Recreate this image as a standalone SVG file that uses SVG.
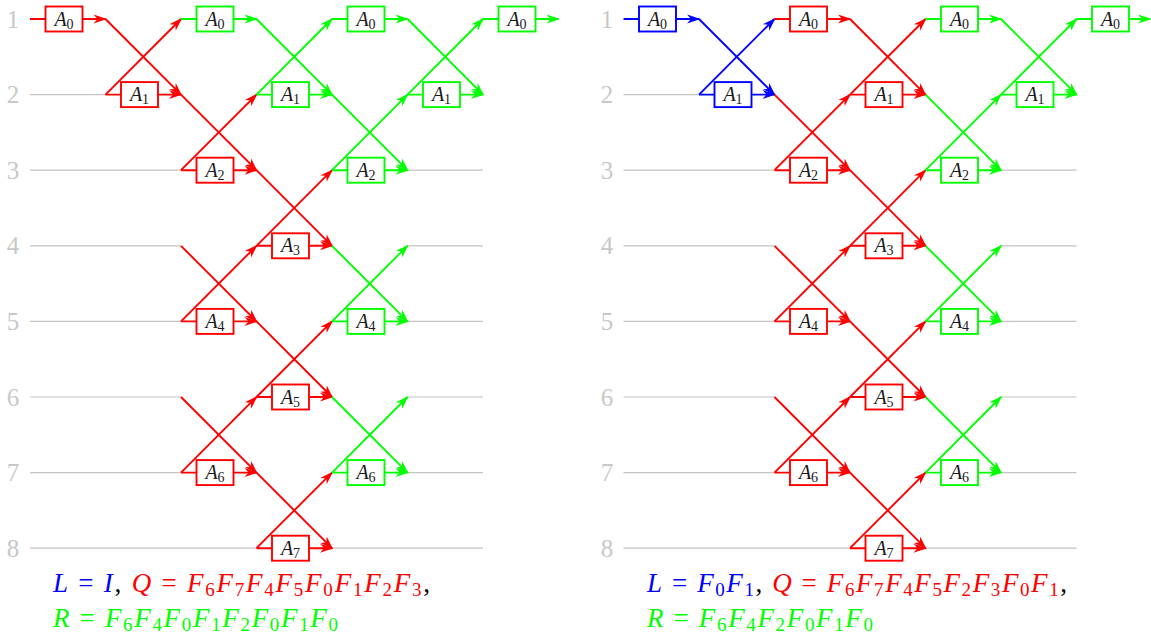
<svg xmlns="http://www.w3.org/2000/svg" width="1151" height="633" viewBox="0 0 1151 633">
<style>
.c{fill:none;stroke-width:1.9}
.cr{stroke:#ff0000;marker-end:url(#mr)}
.cg{stroke:#00ff00;marker-end:url(#mg)}
.cb{stroke:#0000ff;marker-end:url(#mb)}
.gl{stroke:#c4c4c4;stroke-width:1.2;fill:none}
.bx{fill:#fff;stroke-width:1.9}
.br{stroke:#ff0000}.bg{stroke:#00ff00}.bb{stroke:#0000ff}
.lb{font-size:20px;text-anchor:middle;fill:#1a1a1a}
.it{font-style:italic}
.sb{font-size:14px}
.num{font-size:25px;fill:#c8c8c8;text-anchor:middle}
.fm{font-size:27px}
.i{font-style:italic}
.s{font-size:19px}
</style>
<defs>
<marker id="mr" viewBox="-14 -6 16 12" refX="0" refY="0" markerWidth="16" markerHeight="12" markerUnits="userSpaceOnUse" orient="auto" overflow="visible"><path d="M1.5,0 L-12,-4.5 L-8,0 L-12,4.5 Z" fill="#ff0000"/></marker>
<marker id="mg" viewBox="-14 -6 16 12" refX="0" refY="0" markerWidth="16" markerHeight="12" markerUnits="userSpaceOnUse" orient="auto" overflow="visible"><path d="M1.5,0 L-12,-4.5 L-8,0 L-12,4.5 Z" fill="#00ff00"/></marker>
<marker id="mb" viewBox="-14 -6 16 12" refX="0" refY="0" markerWidth="16" markerHeight="12" markerUnits="userSpaceOnUse" orient="auto" overflow="visible"><path d="M1.5,0 L-12,-4.5 L-8,0 L-12,4.5 Z" fill="#0000ff"/></marker>
</defs>
<rect width="1151" height="633" fill="#fff"/>
<g id="row-labels" font-family="Liberation Serif, DejaVu Serif, serif">
<text class="num" x="13" y="27.5">1</text><text class="num" x="13" y="103.1">2</text><text class="num" x="13" y="178.7">3</text><text class="num" x="13" y="254.3">4</text><text class="num" x="13" y="329.9">5</text><text class="num" x="13" y="405.5">6</text><text class="num" x="13" y="481.1">7</text><text class="num" x="13" y="556.7">8</text>
<text class="num" x="607" y="27.5">1</text><text class="num" x="607" y="103.1">2</text><text class="num" x="607" y="178.7">3</text><text class="num" x="607" y="254.3">4</text><text class="num" x="607" y="329.9">5</text><text class="num" x="607" y="405.5">6</text><text class="num" x="607" y="481.1">7</text><text class="num" x="607" y="556.7">8</text>
</g>
<g id="gray-lines" class="gl">
<path d="M30,94.6H105.5M30,170.2H181M407.5,170.2H483M30,245.8H181M407.5,245.8H483M30,321.4H181M407.5,321.4H483M30,397H181M407.5,397H483M30,472.6H181M407.5,472.6H483M30,548.2H256.5M332,548.2H483"/>
<path d="M623.5,94.6H699M623.5,170.2H774.5M1001,170.2H1076.5M623.5,245.8H774.5M1001,245.8H1076.5M623.5,321.4H774.5M1001,321.4H1076.5M623.5,397H774.5M1001,397H1076.5M623.5,472.6H774.5M1001,472.6H1076.5M623.5,548.2H850M925.5,548.2H1076.5"/>
</g>
<g id="connectors">
<path class="c cr" d="M30,19H105.5"/>
<path class="c cr" d="M105.5,94.6H181"/>
<path class="c cr" d="M181,170.2H256.5"/>
<path class="c cr" d="M256.5,245.8H332"/>
<path class="c cr" d="M181,321.4H256.5"/>
<path class="c cr" d="M256.5,397H332"/>
<path class="c cr" d="M181,472.6H256.5"/>
<path class="c cr" d="M256.5,548.2H332"/>
<path class="c cr" d="M105.5,19L181,94.6"/><path class="c cr" d="M105.5,94.6L181,19"/>
<path class="c cr" d="M181,94.6L256.5,170.2"/><path class="c cr" d="M181,170.2L256.5,94.6"/>
<path class="c cr" d="M256.5,170.2L332,245.8"/><path class="c cr" d="M256.5,245.8L332,170.2"/>
<path class="c cr" d="M181,245.8L256.5,321.4"/><path class="c cr" d="M181,321.4L256.5,245.8"/>
<path class="c cr" d="M256.5,321.4L332,397"/><path class="c cr" d="M256.5,397L332,321.4"/>
<path class="c cr" d="M181,397L256.5,472.6"/><path class="c cr" d="M181,472.6L256.5,397"/>
<path class="c cr" d="M256.5,472.6L332,548.2"/><path class="c cr" d="M256.5,548.2L332,472.6"/>
<path class="c cg" d="M181,19H256.5"/>
<path class="c cg" d="M256.5,94.6H332"/>
<path class="c cg" d="M332,19H407.5"/>
<path class="c cg" d="M332,170.2H407.5"/>
<path class="c cg" d="M407.5,94.6H483"/>
<path class="c cg" d="M483,19H558.5"/>
<path class="c cg" d="M332,321.4H407.5"/>
<path class="c cg" d="M332,472.6H407.5"/>
<path class="c cg" d="M256.5,19L332,94.6"/><path class="c cg" d="M256.5,94.6L332,19"/>
<path class="c cg" d="M332,94.6L407.5,170.2"/><path class="c cg" d="M332,170.2L407.5,94.6"/>
<path class="c cg" d="M407.5,19L483,94.6"/><path class="c cg" d="M407.5,94.6L483,19"/>
<path class="c cg" d="M332,245.8L407.5,321.4"/><path class="c cg" d="M332,321.4L407.5,245.8"/>
<path class="c cg" d="M332,397L407.5,472.6"/><path class="c cg" d="M332,472.6L407.5,397"/>
<path class="c cb" d="M623.5,19H699"/>
<path class="c cb" d="M699,94.6H774.5"/>
<path class="c cb" d="M699,19L774.5,94.6"/><path class="c cb" d="M699,94.6L774.5,19"/>
<path class="c cr" d="M774.5,19H850"/>
<path class="c cr" d="M774.5,170.2H850"/>
<path class="c cr" d="M850,94.6H925.5"/>
<path class="c cr" d="M850,245.8H925.5"/>
<path class="c cr" d="M774.5,321.4H850"/>
<path class="c cr" d="M850,397H925.5"/>
<path class="c cr" d="M774.5,472.6H850"/>
<path class="c cr" d="M850,548.2H925.5"/>
<path class="c cr" d="M774.5,94.6L850,170.2"/><path class="c cr" d="M774.5,170.2L850,94.6"/>
<path class="c cr" d="M850,19L925.5,94.6"/><path class="c cr" d="M850,94.6L925.5,19"/>
<path class="c cr" d="M850,170.2L925.5,245.8"/><path class="c cr" d="M850,245.8L925.5,170.2"/>
<path class="c cr" d="M774.5,245.8L850,321.4"/><path class="c cr" d="M774.5,321.4L850,245.8"/>
<path class="c cr" d="M850,321.4L925.5,397"/><path class="c cr" d="M850,397L925.5,321.4"/>
<path class="c cr" d="M774.5,397L850,472.6"/><path class="c cr" d="M774.5,472.6L850,397"/>
<path class="c cr" d="M850,472.6L925.5,548.2"/><path class="c cr" d="M850,548.2L925.5,472.6"/>
<path class="c cg" d="M925.5,19H1001"/>
<path class="c cg" d="M925.5,170.2H1001"/>
<path class="c cg" d="M1001,94.6H1076.5"/>
<path class="c cg" d="M1076.5,19H1150"/>
<path class="c cg" d="M925.5,321.4H1001"/>
<path class="c cg" d="M925.5,472.6H1001"/>
<path class="c cg" d="M925.5,94.6L1001,170.2"/><path class="c cg" d="M925.5,170.2L1001,94.6"/>
<path class="c cg" d="M1001,19L1076.5,94.6"/><path class="c cg" d="M1001,94.6L1076.5,19"/>
<path class="c cg" d="M925.5,245.8L1001,321.4"/><path class="c cg" d="M925.5,321.4L1001,245.8"/>
<path class="c cg" d="M925.5,397L1001,472.6"/><path class="c cg" d="M925.5,472.6L1001,397"/>
</g>
<g id="nodes" font-family="Liberation Serif, DejaVu Serif, serif">
<g id="L-Q-A0"><rect class="bx br" x="45.5" y="6.5" width="37" height="25"/><text class="lb" x="64" y="25.5"><tspan class="it">A</tspan><tspan class="sb" dy="3">0</tspan></text></g>
<g id="L-Q-A1"><rect class="bx br" x="121" y="82.1" width="37" height="25"/><text class="lb" x="139.5" y="101.1"><tspan class="it">A</tspan><tspan class="sb" dy="3">1</tspan></text></g>
<g id="L-Q-A2"><rect class="bx br" x="196.5" y="157.7" width="37" height="25"/><text class="lb" x="215" y="176.7"><tspan class="it">A</tspan><tspan class="sb" dy="3">2</tspan></text></g>
<g id="L-Q-A3"><rect class="bx br" x="272" y="233.3" width="37" height="25"/><text class="lb" x="290.5" y="252.3"><tspan class="it">A</tspan><tspan class="sb" dy="3">3</tspan></text></g>
<g id="L-Q-A4"><rect class="bx br" x="196.5" y="308.9" width="37" height="25"/><text class="lb" x="215" y="327.9"><tspan class="it">A</tspan><tspan class="sb" dy="3">4</tspan></text></g>
<g id="L-Q-A5"><rect class="bx br" x="272" y="384.5" width="37" height="25"/><text class="lb" x="290.5" y="403.5"><tspan class="it">A</tspan><tspan class="sb" dy="3">5</tspan></text></g>
<g id="L-Q-A6"><rect class="bx br" x="196.5" y="460.1" width="37" height="25"/><text class="lb" x="215" y="479.1"><tspan class="it">A</tspan><tspan class="sb" dy="3">6</tspan></text></g>
<g id="L-Q-A7"><rect class="bx br" x="272" y="535.7" width="37" height="25"/><text class="lb" x="290.5" y="554.7"><tspan class="it">A</tspan><tspan class="sb" dy="3">7</tspan></text></g>
<g id="L-R-A0a"><rect class="bx bg" x="196.5" y="6.5" width="37" height="25"/><text class="lb" x="215" y="25.5"><tspan class="it">A</tspan><tspan class="sb" dy="3">0</tspan></text></g>
<g id="L-R-A1a"><rect class="bx bg" x="272" y="82.1" width="37" height="25"/><text class="lb" x="290.5" y="101.1"><tspan class="it">A</tspan><tspan class="sb" dy="3">1</tspan></text></g>
<g id="L-R-A0b"><rect class="bx bg" x="347.5" y="6.5" width="37" height="25"/><text class="lb" x="366" y="25.5"><tspan class="it">A</tspan><tspan class="sb" dy="3">0</tspan></text></g>
<g id="L-R-A2"><rect class="bx bg" x="347.5" y="157.7" width="37" height="25"/><text class="lb" x="366" y="176.7"><tspan class="it">A</tspan><tspan class="sb" dy="3">2</tspan></text></g>
<g id="L-R-A1b"><rect class="bx bg" x="423" y="82.1" width="37" height="25"/><text class="lb" x="441.5" y="101.1"><tspan class="it">A</tspan><tspan class="sb" dy="3">1</tspan></text></g>
<g id="L-R-A0c"><rect class="bx bg" x="498.5" y="6.5" width="37" height="25"/><text class="lb" x="517" y="25.5"><tspan class="it">A</tspan><tspan class="sb" dy="3">0</tspan></text></g>
<g id="L-R-A4"><rect class="bx bg" x="347.5" y="308.9" width="37" height="25"/><text class="lb" x="366" y="327.9"><tspan class="it">A</tspan><tspan class="sb" dy="3">4</tspan></text></g>
<g id="L-R-A6"><rect class="bx bg" x="347.5" y="460.1" width="37" height="25"/><text class="lb" x="366" y="479.1"><tspan class="it">A</tspan><tspan class="sb" dy="3">6</tspan></text></g>
<g id="R-L-A0"><rect class="bx bb" x="639" y="6.5" width="37" height="25"/><text class="lb" x="657.5" y="25.5"><tspan class="it">A</tspan><tspan class="sb" dy="3">0</tspan></text></g>
<g id="R-L-A1"><rect class="bx bb" x="714.5" y="82.1" width="37" height="25"/><text class="lb" x="733" y="101.1"><tspan class="it">A</tspan><tspan class="sb" dy="3">1</tspan></text></g>
<g id="R-Q-A0"><rect class="bx br" x="790" y="6.5" width="37" height="25"/><text class="lb" x="808.5" y="25.5"><tspan class="it">A</tspan><tspan class="sb" dy="3">0</tspan></text></g>
<g id="R-Q-A2"><rect class="bx br" x="790" y="157.7" width="37" height="25"/><text class="lb" x="808.5" y="176.7"><tspan class="it">A</tspan><tspan class="sb" dy="3">2</tspan></text></g>
<g id="R-Q-A1"><rect class="bx br" x="865.5" y="82.1" width="37" height="25"/><text class="lb" x="884" y="101.1"><tspan class="it">A</tspan><tspan class="sb" dy="3">1</tspan></text></g>
<g id="R-Q-A3"><rect class="bx br" x="865.5" y="233.3" width="37" height="25"/><text class="lb" x="884" y="252.3"><tspan class="it">A</tspan><tspan class="sb" dy="3">3</tspan></text></g>
<g id="R-Q-A4"><rect class="bx br" x="790" y="308.9" width="37" height="25"/><text class="lb" x="808.5" y="327.9"><tspan class="it">A</tspan><tspan class="sb" dy="3">4</tspan></text></g>
<g id="R-Q-A5"><rect class="bx br" x="865.5" y="384.5" width="37" height="25"/><text class="lb" x="884" y="403.5"><tspan class="it">A</tspan><tspan class="sb" dy="3">5</tspan></text></g>
<g id="R-Q-A6"><rect class="bx br" x="790" y="460.1" width="37" height="25"/><text class="lb" x="808.5" y="479.1"><tspan class="it">A</tspan><tspan class="sb" dy="3">6</tspan></text></g>
<g id="R-Q-A7"><rect class="bx br" x="865.5" y="535.7" width="37" height="25"/><text class="lb" x="884" y="554.7"><tspan class="it">A</tspan><tspan class="sb" dy="3">7</tspan></text></g>
<g id="R-R-A0a"><rect class="bx bg" x="941" y="6.5" width="37" height="25"/><text class="lb" x="959.5" y="25.5"><tspan class="it">A</tspan><tspan class="sb" dy="3">0</tspan></text></g>
<g id="R-R-A2"><rect class="bx bg" x="941" y="157.7" width="37" height="25"/><text class="lb" x="959.5" y="176.7"><tspan class="it">A</tspan><tspan class="sb" dy="3">2</tspan></text></g>
<g id="R-R-A1"><rect class="bx bg" x="1016.5" y="82.1" width="37" height="25"/><text class="lb" x="1035" y="101.1"><tspan class="it">A</tspan><tspan class="sb" dy="3">1</tspan></text></g>
<g id="R-R-A0b"><rect class="bx bg" x="1092" y="6.5" width="37" height="25"/><text class="lb" x="1110.5" y="25.5"><tspan class="it">A</tspan><tspan class="sb" dy="3">0</tspan></text></g>
<g id="R-R-A4"><rect class="bx bg" x="941" y="308.9" width="37" height="25"/><text class="lb" x="959.5" y="327.9"><tspan class="it">A</tspan><tspan class="sb" dy="3">4</tspan></text></g>
<g id="R-R-A6"><rect class="bx bg" x="941" y="460.1" width="37" height="25"/><text class="lb" x="959.5" y="479.1"><tspan class="it">A</tspan><tspan class="sb" dy="3">6</tspan></text></g>
</g>
<g id="formulas" class="fm" font-family="Liberation Serif, DejaVu Serif, serif">
<text x="53" y="592" textLength="377" lengthAdjust="spacing"><tspan fill="#0000ff"><tspan class="i">L</tspan> = <tspan class="i">I</tspan></tspan><tspan fill="#000">, </tspan><tspan fill="#ff0000"><tspan class="i">Q</tspan> = <tspan class="i">F</tspan><tspan class="s" dy="4">6</tspan><tspan class="i" dy="-4">F</tspan><tspan class="s" dy="4">7</tspan><tspan class="i" dy="-4">F</tspan><tspan class="s" dy="4">4</tspan><tspan class="i" dy="-4">F</tspan><tspan class="s" dy="4">5</tspan><tspan class="i" dy="-4">F</tspan><tspan class="s" dy="4">0</tspan><tspan class="i" dy="-4">F</tspan><tspan class="s" dy="4">1</tspan><tspan class="i" dy="-4">F</tspan><tspan class="s" dy="4">2</tspan><tspan class="i" dy="-4">F</tspan><tspan class="s" dy="4">3</tspan></tspan><tspan fill="#000" dy="-4">,</tspan></text>
<text x="53" y="627" textLength="285" lengthAdjust="spacing" fill="#00ff00"><tspan class="i">R</tspan> = <tspan class="i">F</tspan><tspan class="s" dy="4">6</tspan><tspan class="i" dy="-4">F</tspan><tspan class="s" dy="4">4</tspan><tspan class="i" dy="-4">F</tspan><tspan class="s" dy="4">0</tspan><tspan class="i" dy="-4">F</tspan><tspan class="s" dy="4">1</tspan><tspan class="i" dy="-4">F</tspan><tspan class="s" dy="4">2</tspan><tspan class="i" dy="-4">F</tspan><tspan class="s" dy="4">0</tspan><tspan class="i" dy="-4">F</tspan><tspan class="s" dy="4">1</tspan><tspan class="i" dy="-4">F</tspan><tspan class="s" dy="4">0</tspan></text>
<text x="647" y="592" textLength="420" lengthAdjust="spacing"><tspan fill="#0000ff"><tspan class="i">L</tspan> = <tspan class="i">F</tspan><tspan class="s" dy="4">0</tspan><tspan class="i" dy="-4">F</tspan><tspan class="s" dy="4">1</tspan></tspan><tspan fill="#000" dy="-4">, </tspan><tspan fill="#ff0000"><tspan class="i">Q</tspan> = <tspan class="i">F</tspan><tspan class="s" dy="4">6</tspan><tspan class="i" dy="-4">F</tspan><tspan class="s" dy="4">7</tspan><tspan class="i" dy="-4">F</tspan><tspan class="s" dy="4">4</tspan><tspan class="i" dy="-4">F</tspan><tspan class="s" dy="4">5</tspan><tspan class="i" dy="-4">F</tspan><tspan class="s" dy="4">2</tspan><tspan class="i" dy="-4">F</tspan><tspan class="s" dy="4">3</tspan><tspan class="i" dy="-4">F</tspan><tspan class="s" dy="4">0</tspan><tspan class="i" dy="-4">F</tspan><tspan class="s" dy="4">1</tspan></tspan><tspan fill="#000" dy="-4">,</tspan></text>
<text x="647" y="627" textLength="226" lengthAdjust="spacing" fill="#00ff00"><tspan class="i">R</tspan> = <tspan class="i">F</tspan><tspan class="s" dy="4">6</tspan><tspan class="i" dy="-4">F</tspan><tspan class="s" dy="4">4</tspan><tspan class="i" dy="-4">F</tspan><tspan class="s" dy="4">2</tspan><tspan class="i" dy="-4">F</tspan><tspan class="s" dy="4">0</tspan><tspan class="i" dy="-4">F</tspan><tspan class="s" dy="4">1</tspan><tspan class="i" dy="-4">F</tspan><tspan class="s" dy="4">0</tspan></text>
</g>
</svg>
